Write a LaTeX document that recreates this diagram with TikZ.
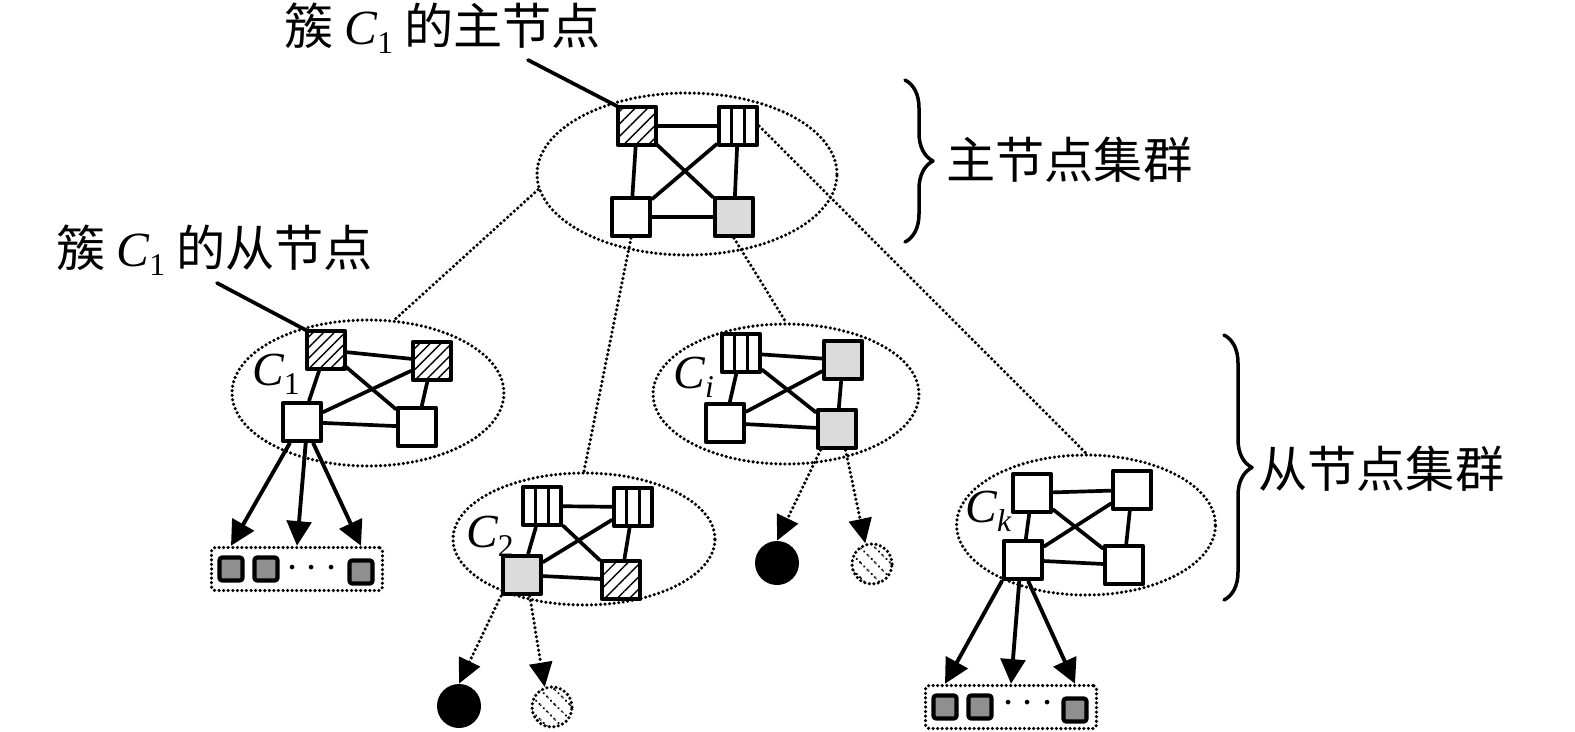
\documentclass[tikz,border=0pt]{standalone}
\usepackage{fontspec}
\newfontfamily\cjk{Noto Sans CJK SC}
\newfontfamily\tms{Liberation Serif}
\usetikzlibrary{shapes.geometric,arrows.meta,patterns.meta,decorations.pathreplacing,calc}
\definecolor{litegray}{rgb}{0.86,0.86,0.86}
\definecolor{boxgray}{rgb}{0.56,0.56,0.56}
\newcommand\clab[1]{{\tms\itshape C}\raisebox{-0.2em}{\tms\fontsize{18}{20}\selectfont #1}}

\begin{document}
\begin{tikzpicture}[line cap=round,line join=round,x=0.02cm,y=-0.02cm,
    dotline/.style={line width=2pt,dash pattern=on 0pt off 2.6pt},
    clust/.style={ellipse,draw,dotline,inner sep=0pt},
    sq/.style={draw,line width=2.4pt,fill=white,minimum size=0.76cm,inner sep=0pt},
    hatchsq/.style={sq,preaction={fill=white},pattern={Lines[angle=45,distance=5pt,line width=0.8pt]}},
    stripesq/.style={sq,path picture={
        \foreach \f in {0.333,0.667}
        \draw[line width=1.5pt] ($(path picture bounding box.north west)!\f!(path picture bounding box.north east)$)
            -- ($(path picture bounding box.south west)!\f!(path picture bounding box.south east)$);}},
    graysq/.style={sq,fill=litegray},
    edge/.style={line width=2.1pt},
    arr/.style={line width=2.2pt,-{Triangle[length=14pt,width=14pt]}},
    dotarr/.style={dotline,-{Triangle[length=14pt,width=13pt]}},
    smallsq/.style={draw,line width=2.4pt,fill=boxgray,minimum size=0.46cm,inner sep=0pt,rounded corners=1.5pt},
    dotbox/.style={draw,dotline,rounded corners=2pt,minimum width=3.42cm,minimum height=0.86cm,inner sep=0pt},
    blackdot/.style={circle,fill=black,minimum size=0.88cm,inner sep=0pt},
    hatchdot/.style={circle,draw,dotline,minimum size=0.8cm,inner sep=0pt,
        pattern={Lines[angle=-45,distance=6pt,line width=1.4pt]}},
    lbl/.style={font=\fontsize{27}{30}\selectfont,inner sep=0pt,anchor=base west},
    txt/.style={font=\fontsize{28}{30}\selectfont\cjk,inner sep=0pt,anchor=base west},
    brace/.style={decorate,decoration={brace,amplitude=0.56cm},line width=2pt}]

    \useasboundingbox (0,0) rectangle (1575,731);

    % clusters
    \node[clust,minimum width=6cm,minimum height=3.24cm] (mE) at (687,174) {};
    \node[clust,minimum width=5.44cm,minimum height=2.92cm] (aE) at (368,393) {};
    \node[clust,minimum width=5.24cm,minimum height=2.64cm] (bE) at (584,539) {};
    \node[clust,minimum width=5.32cm,minimum height=2.8cm] (cE) at (786,394) {};
    \node[clust,minimum width=5.18cm,minimum height=2.8cm] (dE) at (1086,525) {};

    % master nodes
    \node[hatchsq] (mh) at (637,126) {};
    \node[stripesq] (ms) at (738,126) {};
    \node[sq] (mw) at (631,217) {};
    \node[graysq] (mg) at (734,217) {};
    \foreach \u/\v in {mh/ms,mh/mw,mh/mg,ms/mw,ms/mg,mw/mg}
        \draw[edge] (\u) -- (\v);

    % C1
    \node[hatchsq,pattern={Lines[angle=45,distance=4.3pt,line width=0.8pt]}] (ah1) at (326,350) {};
    \node[hatchsq,pattern={Lines[angle=45,distance=4.3pt,line width=0.8pt]}] (ah2) at (432,361) {};
    \node[sq] (aw1) at (302,422) {};
    \node[sq] (aw2) at (417,427) {};
    \foreach \u/\v in {ah1/ah2,ah1/aw1,ah1/aw2,ah2/aw1,ah2/aw2,aw1/aw2}
        \draw[edge] (\u) -- (\v);
    \node[lbl] (la) at (252,385) {\clab{1}};

    % C2
    \node[stripesq] (bs1) at (542,506) {};
    \node[stripesq] (bs2) at (633,507) {};
    \node[graysq] (bg) at (522,575) {};
    \node[hatchsq] (bh) at (621,580) {};
    \foreach \u/\v in {bs1/bs2,bs1/bg,bs1/bh,bs2/bg,bs2/bh,bg/bh}
        \draw[edge] (\u) -- (\v);
    \node[lbl] (lb) at (466,547) {\clab{2}};

    % Ci
    \node[stripesq] (cs) at (741,353) {};
    \node[graysq] (cg1) at (843,360) {};
    \node[sq] (cw) at (725,423) {};
    \node[graysq] (cg2) at (837,429) {};
    \foreach \u/\v in {cs/cg1,cs/cw,cs/cg2,cg1/cw,cg1/cg2,cw/cg2}
        \draw[edge] (\u) -- (\v);
    \node[lbl] (lc) at (673,388) {\clab{\itshape i}};

    % Ck
    \node[sq] (dw1) at (1032,493) {};
    \node[sq] (dw2) at (1132,490) {};
    \node[sq] (dw3) at (1023,560) {};
    \node[sq] (dw4) at (1124,565) {};
    \foreach \u/\v in {dw1/dw2,dw1/dw3,dw1/dw4,dw2/dw3,dw2/dw4,dw3/dw4}
        \draw[edge] (\u) -- (\v);
    \node[lbl] (ld) at (965,522) {\clab{\itshape k}};

    % links master -> slaves
    \draw[dotline] (mE.186) -- (aE.70);
    \draw[dotline] (mw.south) -- (bE.north);
    \draw[dotline] (mg.south) -- (cE.north);
    \draw[dotline] (ms.east) -- (dE.north);

    % data boxes
    \node[dotbox] (abox) at (297,569) {};
    \node[smallsq] (aq1) at (231,569) {};
    \node[smallsq] (aq2) at (266,569) {};
    \node[smallsq] (aq3) at (361,572) {};
    \node[font=\fontsize{28}{30}\selectfont,inner sep=0pt] (adots) at (312,569) {$\cdots$};
    \draw[arr] (aw1.-120) -- (aq1 |- abox.north);
    \draw[arr] (aw1.-80) -- (abox.north);
    \draw[arr] (aw1.-62) -- (aq3 |- abox.north);

    \node[dotbox] (dbox) at (1011,707) {};
    \node[smallsq] (dq1) at (945,707) {};
    \node[smallsq] (dq2) at (980,707) {};
    \node[smallsq] (dq3) at (1075,710) {};
    \node[font=\fontsize{28}{30}\selectfont,inner sep=0pt] (ddots) at (1028,704) {$\cdots$};
    \draw[arr] (dw3.south west) -- (dq1 |- dbox.north);
    \draw[arr] (dw3.-100) -- (dbox.north);
    \draw[arr] (dw3.-76) -- (dq3 |- dbox.north);

    % outputs
    \node[blackdot] (bk1) at (459,706) {};
    \node[hatchdot] (bt1) at (552,707) {};
    \draw[dotarr] (bg.-135) -- (bk1.north);
    \draw[dotarr] (bg.-70) -- (bt1.110);
    \node[blackdot] (bk2) at (777,563) {};
    \node[hatchdot] (bt2) at (872,564) {};
    \draw[dotarr] (cg2.-128) -- (bk2.north);
    \draw[dotarr] (cg2.-68) -- (bt2.108);

    % labels
    \node[txt] (tmain) at (284,44) {簇 \clab{1} 的主节点};
    \coordinate (pm) at (528,60);
    \draw[edge] (pm) -- (mh.north west);
    \node[txt] (tslave) at (56,266) {簇 \clab{1} 的从节点};
    \coordinate (ps) at (217,283);
    \draw[edge] (ps) -- (ah1.north west);

    \draw[brace] (905,80) -- (905,242);
    \node[txt] (tgm) at (946,178) {主节点集群};
    \draw[brace] (1224,335) -- (1224,600);
    \node[txt] (tgs) at (1258,487) {从节点集群};
\end{tikzpicture}
\end{document}
